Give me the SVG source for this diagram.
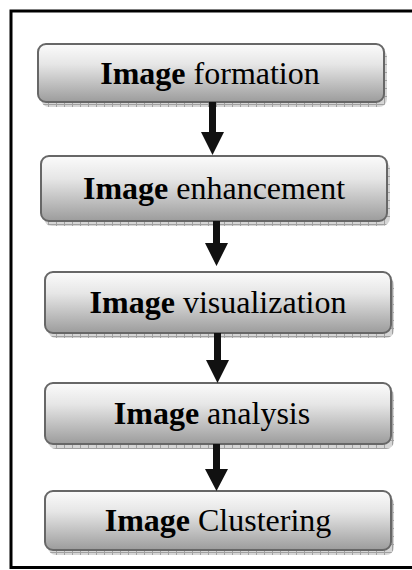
<svg xmlns="http://www.w3.org/2000/svg" width="412" height="570" viewBox="0 0 412 570">
  <defs>
    <linearGradient id="boxFill" x1="0" y1="0" x2="0" y2="1">
      <stop offset="0" stop-color="#fbfbfb"/>
      <stop offset="0.35" stop-color="#e6e6e6"/>
      <stop offset="1" stop-color="#9c9c9c"/>
    </linearGradient>
    <pattern id="hatch" width="8" height="8" patternUnits="userSpaceOnUse">
      <rect width="8" height="8" fill="#d6d6d6"/>
      <path d="M0 0.5 H8 M0.5 0 V8" stroke="#a0a0a0" stroke-width="1"/>
    </pattern>
  </defs>
  <style>
    .shadow { fill: url(#hatch); }
    .box { fill: url(#boxFill); stroke: #676767; stroke-width: 2; }
    .label { font-family: "Liberation Serif", "Times New Roman", serif; font-size: 32px; fill: #000; text-anchor: middle; }
    .label .b { font-weight: bold; }
    .arrow { fill: #111; }
    .frame { fill: none; stroke: #000; stroke-width: 3; }
  </style>

  <rect width="412" height="570" fill="#fff"/>
  <!-- outer frame, open on the right -->
  <path class="frame" d="M414 11 H11 V567.5 H414"/>

  <g id="node-formation">
    <rect class="shadow" x="41" y="49" width="346" height="58" rx="8"/>
    <rect class="box" x="38" y="44" width="346" height="58" rx="8"/>
    <text class="label" x="210" y="84"><tspan class="b">Image</tspan> formation</text>
  </g>

  <g id="node-enhancement">
    <rect class="shadow" x="44" y="161" width="346" height="65" rx="8"/>
    <rect class="box" x="41" y="156" width="346" height="65" rx="8"/>
    <text class="label" x="214" y="199"><tspan class="b">Image</tspan> enhancement</text>
  </g>

  <g id="node-visualization">
    <rect class="shadow" x="48" y="277" width="346" height="61" rx="8"/>
    <rect class="box" x="45" y="272" width="346" height="61" rx="8"/>
    <text class="label" x="218" y="313"><tspan class="b">Image</tspan> visualization</text>
  </g>

  <g id="node-analysis">
    <rect class="shadow" x="48" y="388" width="346" height="61" rx="8"/>
    <rect class="box" x="45" y="383" width="346" height="61" rx="8"/>
    <text class="label" x="212" y="424"><tspan class="b">Image</tspan> analysis</text>
  </g>

  <g id="node-clustering">
    <rect class="shadow" x="48" y="496" width="346" height="59" rx="8"/>
    <rect class="box" x="45" y="491" width="346" height="59" rx="8"/>
    <text class="label" x="218" y="531"><tspan class="b">Image</tspan> Clustering</text>
  </g>

  <g id="connectors">
    <path class="arrow" d="M209 102 H216 V132 H224 L212.5 155 L201 132 H209 Z"/>
    <path class="arrow" d="M213 221 H220 V243 H228 L216.5 266 L205 243 H213 Z"/>
    <path class="arrow" d="M214 333 H221 V360 H229 L217.5 383 L206 360 H214 Z"/>
    <path class="arrow" d="M213 444 H220 V469 H228 L216.5 491 L205 469 H213 Z"/>
  </g>
</svg>
